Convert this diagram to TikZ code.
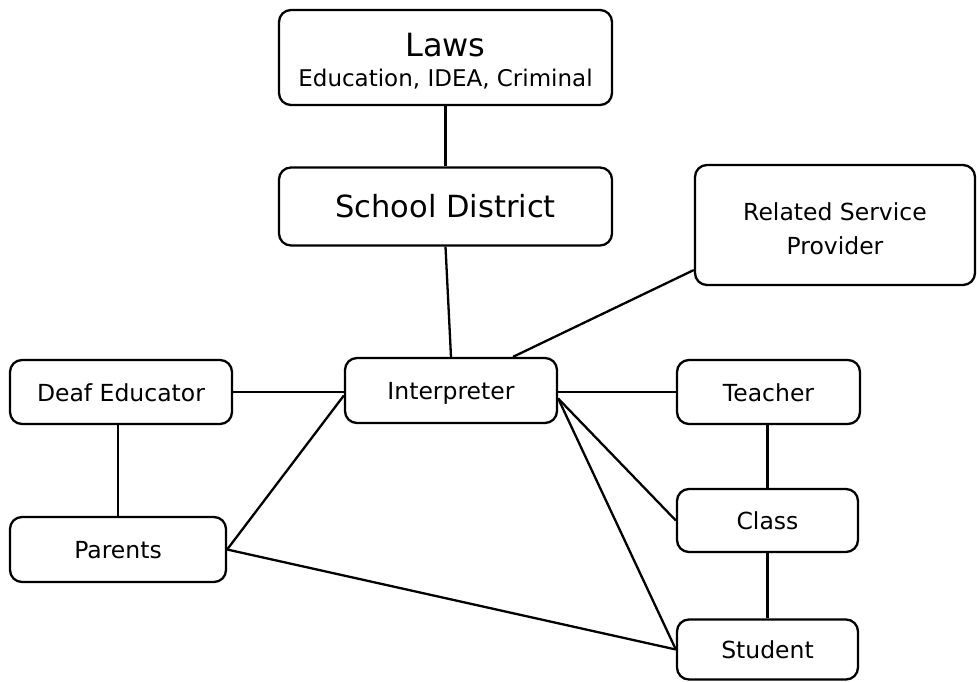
\documentclass[tikz,border=0pt]{standalone}
\usepackage{fontspec}
\setmainfont{DejaVu Sans}
\begin{document}
\begin{tikzpicture}[x=1pt,y=-1pt,
  box/.style={draw=black, line width=2.3pt, rounded corners=12pt, inner sep=0pt, align=center, font=\fontsize{23.5}{34}\selectfont},
  oneline/.style={text height=18pt, text depth=0pt},
  link/.style={draw=black, line width=2.3pt}]
\useasboundingbox (0,0) rectangle (977,681);
\node[box, minimum width=333pt, minimum height=95pt] (laws) at (445.5,57.5)
  {{\fontsize{32}{30}\selectfont\rule{0pt}{31pt}Laws}\\[-4pt]{\fontsize{23}{26}\selectfont Education, IDEA, Criminal}};
\node[box, minimum width=333pt, minimum height=78pt, font=\fontsize{30.5}{34}\selectfont] (sd) at (445.5,206.5) {School District};
\node[box, minimum width=280pt, minimum height=120pt] (rsp) at (835,225) {\rule{0pt}{26pt}Related Service\\Provider};
\node[box, oneline, minimum width=222pt, minimum height=64pt] (deaf) at (121,392) {Deaf Educator};
\node[box, oneline, minimum width=212pt, minimum height=65pt] (int) at (451,390.5) {Interpreter};
\node[box, oneline, minimum width=183pt, minimum height=64pt] (teach) at (768.5,392) {Teacher};
\node[box, oneline, minimum width=181pt, minimum height=63pt] (class) at (767.5,520.5) {Class};
\node[box, oneline, minimum width=216pt, minimum height=65pt] (par) at (118,549.5) {Parents};
\node[box, oneline, minimum width=181pt, minimum height=60pt] (stud) at (767.5,649.5) {Student};
\coordinate (intse) at ([yshift=-8pt]int.east);
\coordinate (intnw) at ([yshift=-5pt]int.west);
\coordinate (intne) at ([xshift=62pt]int.north);
\coordinate (rspl) at ([yshift=-45pt]rsp.west);
\draw[link] (laws.south) -- (sd.south |- sd.north);
\draw[link] (sd.south) -- (int.north);
\draw[link] (intne) -- (rspl);
\draw[link] (deaf.east) -- (int.west |- deaf.east);
\draw[link] (int.east |- teach.west) -- (teach.west);
\draw[link] (intse) -- (class.west);
\draw[link] (intse) -- (stud.west);
\draw[link] (par.east) -- (intnw);
\draw[link] (par.east) -- (stud.west);
\draw[link] ([xshift=-3pt]deaf.south) -- ([xshift=0pt]par.north);
\draw[link] (teach.south -| class.north) -- (class.north);
\draw[link] (class.south) -- (stud.north);
\end{tikzpicture}
\end{document}
